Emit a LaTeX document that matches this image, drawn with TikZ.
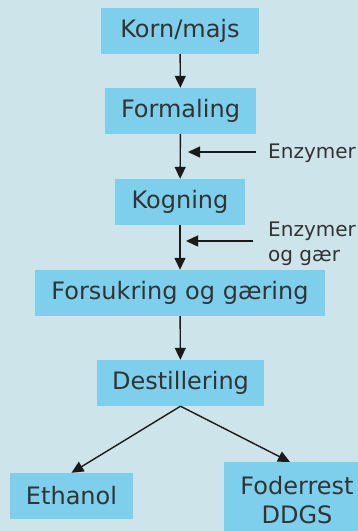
\documentclass[tikz,border=0pt]{standalone}
\usepackage{fontspec}
\setmainfont{DejaVu Sans}
\usetikzlibrary{arrows.meta}
\definecolor{bg}{HTML}{CDE5EA}
\definecolor{boxc}{HTML}{7ECFEC}
\definecolor{txt}{HTML}{333333}
\definecolor{arr}{HTML}{1A1A1A}
\begin{document}
\begin{tikzpicture}[x=1pt,y=-1pt,
  box/.style={fill=boxc,inner sep=0pt,text=txt,font=\fontsize{24}{29}\selectfont,align=center},
  flow/.style={draw=arr,line width=1.4pt,-{Triangle[length=12pt,width=11pt]}},
  side/.style={text=txt,font=\fontsize{20}{25}\selectfont,align=left,inner sep=0pt}]
\fill[bg] (0,0) rectangle (358,531);
\useasboundingbox (0,0) rectangle (358,531);
\node[box,minimum width=158pt,minimum height=46pt] (korn) at (180,31) {Korn/majs};
\node[box,minimum width=151pt,minimum height=46pt] (form) at (180.5,111) {Formaling};
\node[box,minimum width=130pt,minimum height=46pt] (kog) at (180,202) {Kogning};
\node[box,minimum width=290pt,minimum height=46pt] (fors) at (180,293) {Forsukring og gæring};
\node[box,minimum width=167pt,minimum height=46pt] (dest) at (180.5,383) {Destillering};
\node[box,minimum width=123pt,minimum height=46pt] (eth) at (71.5,496) {Ethanol};
\node[box,minimum width=146pt,minimum height=76pt,anchor=north] (fod) at (297,462) {Foderrest\\DDGS};
\node[side,anchor=west] (enz1) at (268,153) {Enzymer};
\node[side,anchor=north west] (enz2) at (268,222) {Enzymer\\og gær};
\coordinate (s1) at (256,152);
\coordinate (t1) at (188,152);
\coordinate (s2) at (253,241);
\coordinate (t2) at (186,241);
\draw[flow] (korn) -- (form);
\draw[flow] (form) -- (kog);
\draw[flow] (kog) -- (fors);
\draw[flow] (fors) -- (dest);
\draw[flow] (dest.south) -- (eth.north);
\draw[flow] (dest.south) -- ([xshift=-7pt]fod.north);
\draw[flow] (s1) -- (t1);
\draw[flow] (s2) -- (t2);
\end{tikzpicture}
\end{document}
